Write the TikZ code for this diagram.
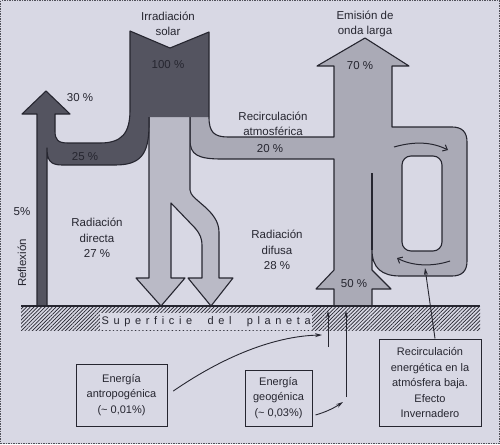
\documentclass[tikz,border=0pt]{standalone}
\usepackage{fontspec}
\setmainfont{Liberation Sans}
\usetikzlibrary{arrows.meta,patterns.meta}
\definecolor{bgcol}{RGB}{216,216,228}
\definecolor{darkflow}{RGB}{84,84,96}
\definecolor{lightflow}{RGB}{186,186,198}
\definecolor{midflow}{RGB}{170,170,182}
\definecolor{edge}{RGB}{38,38,48}
\tikzset{
  flow/.style={draw=edge,line width=1.1pt,line join=round},
  lbl/.style={font=\fontsize{11.5}{15.5}\selectfont,text=edge,inner sep=0pt,align=center},
  infobox/.style={draw=edge,line width=1pt,fill=bgcol,align=center,
    font=\fontsize{11}{15.5}\selectfont,text=edge},
  pointer/.style={edge,line width=0.9pt,-{Stealth[length=7pt,width=4pt]}},
  loopflow/.style={edge,line width=1pt,-{Straight Barb[length=4pt,width=7pt]}}
}
\begin{document}
\begin{tikzpicture}[x=1pt,y=-1pt]
\fill[bgcol] (0,0) rectangle (500,444);
\draw[edge!80,line width=1.4pt,dash pattern=on 1.5pt off 1pt] (0.7,0.7) rectangle (499.3,443.3);
\useasboundingbox (0,0) rectangle (500,444);

\node[lbl] (irrlbl) at (168,24) {Irradiación\\solar};
\node[lbl] (emilbl) at (365,24) {Emisión de\\onda larga};
\node[lbl] (recatm) at (273,124) {Recirculación\\atmosférica};

% recirculation, emission and loop
\path[flow,fill=midflow,even odd rule]
  (209,117) .. controls (209,132) and (214,137) .. (228,137) -- (334,137) -- (334,66)
  -- (317,66) -- (365,38) -- (409,66) -- (392,66) -- (392,127) -- (452,127)
  .. controls (462,127) and (467,132) .. (467,142) -- (467,261)
  .. controls (467,271) and (462,276) .. (452,276) -- (400,276)
  .. controls (382,276) and (372,268) .. (372,250) -- (372,270) -- (391,289)
  -- (372,289) -- (372,306) -- (334,306) -- (334,289) -- (316,289) -- (334,270)
  -- (334,159) -- (222,159) .. controls (198,159) and (190,155) .. (190,140) -- (190,117)
  {[rounded corners=9pt] (402,156) rectangle (442,251)};
\draw[flow] (372,173) -- (372,250);

% direct and diffuse radiation
\path[flow,fill=lightflow] (190,117) -- (190,190) .. controls (190,200) and (219,210) .. (219,232)
  -- (219,278) -- (233,278) -- (211,306) -- (188,278) -- (202,278) -- (202,246)
  .. controls (202,238) and (200,234) .. (195,228) -- (171,203) -- (171,278)
  -- (185,278) -- (161,306) -- (136,278) -- (149,278) -- (149,117);

% solar input and reflection
\path[flow,fill=darkflow] (149,117) -- (149,125) .. controls (149,155) and (140,165) .. (115,165)
  -- (62,165) .. controls (50,165) and (47,160) .. (47,148) -- (47,306) -- (37,306)
  -- (37,114) -- (22,114) -- (46,91) -- (70,114) -- (55,114) -- (55,131)
  .. controls (55,140) and (58,143) .. (68,143) -- (100,143)
  .. controls (122,143) and (130,133) .. (130,110) -- (130,31) -- (170,48) -- (209,32) -- (209,117);

\coordinate (topa) at (394,147);
\coordinate (topb) at (448,150);
\coordinate (bota) at (450,261);
\coordinate (botb) at (397,258);
\draw[loopflow] (topa) .. controls (415,141) and (432,142) .. (topb);
\draw[loopflow] (bota) .. controls (432,267) and (412,266) .. (botb);

% ground
\fill[pattern={Lines[angle=45,distance=2.6pt,line width=0.7pt]},pattern color=edge] (21,306) rectangle (480,330);
\draw[edge,line width=1.4pt] (21,306) -- (480,306);
\node[fill=bgcol,inner sep=0pt,minimum width=212pt,minimum height=17pt,anchor=north west,
  font=\fontsize{11}{12}\selectfont,text=edge] (surface) at (100,313)
  {\addfontfeatures{LetterSpace=42}Superficie\ \ del\ \ planeta};

\node[lbl] (p100) at (168,65) {100 \%};
\node[lbl] (p30) at (80,98) {30 \%};
\node[lbl] (p25) at (85,157) {25 \%};
\node[lbl] (p20) at (270,149) {20 \%};
\node[lbl] (p70) at (360,66) {70 \%};
\node[lbl] (p50) at (354,284) {50 \%};
\node[lbl] (p5) at (22,212) {5\%};
\node[lbl,rotate=90] (refl) at (22,263) {Reflexión};
\node[lbl] (direct) at (97,238) {Radiación\\directa\\27 \%};
\node[lbl] (diffuse) at (277,250) {Radiación\\difusa\\28 \%};

\node[infobox,minimum width=91pt,minimum height=62pt] (anthro) at (121.5,395)
  {Energía\\antropogénica\\(\textasciitilde{} 0,01\%)};
\node[infobox,minimum width=67pt,minimum height=56pt] (geo) at (278.5,398)
  {Energía\\geogénica\\(\textasciitilde{} 0,03\%)};
\node[infobox,minimum width=102pt,minimum height=87pt] (recirc) at (430,382.5)
  {Recirculación\\energética en la\\atmósfera baja.\\Efecto\\Invernadero};

\coordinate (anthroend) at (322,335);
\coordinate (geoend) at (343,402);
\coordinate (gndin) at (328,311);
\coordinate (gndinfoot) at (328,347);
\coordinate (gndgeo) at (346,311);
\coordinate (gndgeofoot) at (346,397);
\coordinate (loopspot) at (425,268);
\draw[pointer,shorten <=7pt] (anthro.east) .. controls (230,352) and (280,336) .. (anthroend);
\draw[pointer] ([xshift=3pt,yshift=-17pt]geo.east) .. controls (326,412) and (334,408) .. (geoend);
\draw[pointer] (gndinfoot) -- (gndin);
\draw[pointer] (gndgeofoot) -- (gndgeo);
\draw[pointer] ([xshift=5pt]recirc.north) -- (loopspot);
\end{tikzpicture}
\end{document}
